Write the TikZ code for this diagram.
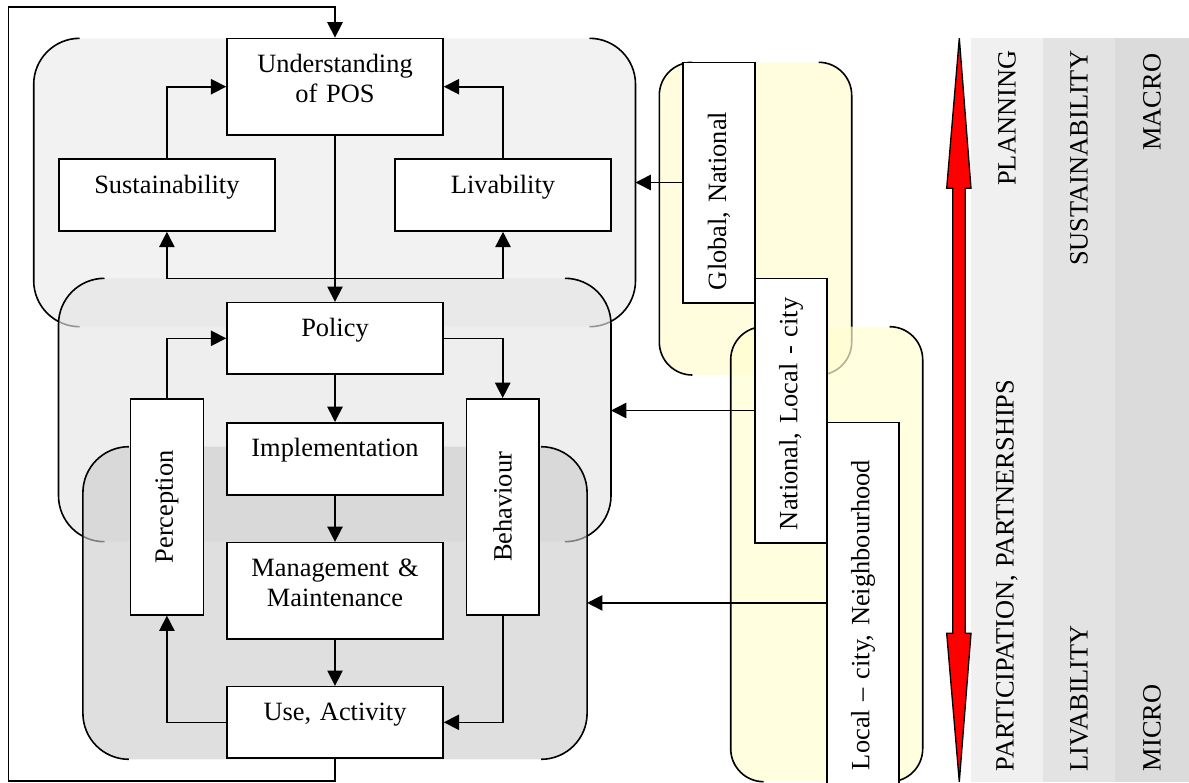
\documentclass[tikz,border=0pt]{standalone}
\usepackage{fontspec}
\setmainfont{Liberation Serif}
\usetikzlibrary{arrows.meta}
\frenchspacing

\tikzset{every picture/.style={line width=1.2pt}}
\tikzset{
  hbox/.style={draw, fill=white, inner sep=0pt, text width=162pt, align=center, text height=25.5pt, text depth=28.5pt},
  hbox2/.style={hbox, text depth=47pt},
  vbox/.style={draw, fill=white, rotate=90, inner sep=0pt, minimum width=162pt, minimum height=54.6pt},
  lbox/.style={draw, fill=white, rotate=90, inner xsep=9.5pt, inner ysep=0pt, minimum height=54pt, align=left},
  bandtxt/.style={rotate=90, inner sep=0pt},
  arr/.style={-{Triangle[length=11.5pt,width=11.5pt]}},
}

\begin{document}
\begin{tikzpicture}[x=0.75pt,y=0.75pt,yscale=-1,xscale=1,font=\fontsize{19.8pt}{22.5pt}\selectfont]
\useasboundingbox (0,0) rectangle (1189,782);

%Shape: grey region 1
\fill[black!5, rounded corners=34.5pt] (33.7,38.3) rectangle (635.5,326.7);
\draw[rounded corners=34.5pt] (79.7,38.3) -- (33.7,38.3) -- (33.7,326.7) -- (79.7,326.7);
\draw[rounded corners=34.5pt] (589.5,38.3) -- (635.5,38.3) -- (635.5,326.7) -- (589.5,326.7);
%Shape: grey region 2
\fill[black!10, fill opacity=0.65, rounded corners=34.5pt] (58.5,278.3) rectangle (611,541.7);
\draw[rounded corners=34.5pt] (104.5,278.3) -- (58.5,278.3) -- (58.5,541.7) -- (104.5,541.7);
\draw[rounded corners=34.5pt] (565,278.3) -- (611,278.3) -- (611,541.7) -- (565,541.7);
%Shape: grey region 3
\fill[black!20, fill opacity=0.62, rounded corners=34.5pt] (82.9,446.7) rectangle (587.1,759.3);
\draw[rounded corners=34.5pt] (128.9,446.7) -- (82.9,446.7) -- (82.9,759.3) -- (128.9,759.3);
\draw[rounded corners=34.5pt] (541.1,446.7) -- (587.1,446.7) -- (587.1,759.3) -- (541.1,759.3);
%Shape: yellow region 1
\fill[yellow!13, rounded corners=24.75pt] (659.3,62.3) rectangle (851.7,375);
\draw[rounded corners=24.75pt] (692.3,62.3) -- (659.3,62.3) -- (659.3,375) -- (692.3,375);
\draw[rounded corners=24.75pt] (818.7,62.3) -- (851.7,62.3) -- (851.7,375) -- (818.7,375);
%Shape: yellow region 2
\fill[yellow!18, fill opacity=0.7, rounded corners=24.75pt] (730.7,326.7) rectangle (922.7,781.7);
\draw[rounded corners=24.75pt] (763.7,326.7) -- (730.7,326.7) -- (730.7,781.7) -- (763.7,781.7);
\draw[rounded corners=24.75pt] (889.7,326.7) -- (922.7,326.7) -- (922.7,781.7) -- (889.7,781.7);

%Shape: bands
\fill[black!6] (971,38.3) rectangle (1043,782);
\fill[black!11] (1043,38.3) rectangle (1115,782);
\fill[black!14] (1115,38.3) rectangle (1189,782);
%Shape: red double arrow
\draw[fill=red, line width=1pt] (959.3,38.3) -- (971,188.3) -- (965.3,188.3) -- (965.3,633.3) -- (971,633.3) -- (959.3,781.7) -- (946.7,633.3) -- (952.7,633.3) -- (952.7,188.3) -- (946.7,188.3) -- cycle;

% Boxes
\node[hbox2] (und) at (335,86.7) {Understanding\\of POS};
\node[hbox] (sus) at (166.9,195) {Sustainability};
\node[hbox] (liv) at (503,195) {Livability};
\node[hbox, text depth=28pt] (pol) at (335,338.3) {Policy};
\node[hbox] (imp) at (335,458.8) {Implementation};
\node[hbox2, text depth=46.7pt] (man) at (335,590.8) {Management \&\\Maintenance};
\node[hbox, text depth=28pt] (use) at (335,722.3) {Use, Activity};
\node[vbox] (per) at (166.9,506.8) {Perception};
\node[vbox] (beh) at (502.7,506.8) {Behaviour};
\node[lbox, text width=161.3pt] (glob) at (719,182.5) {Global, National};
\node[lbox, text width=179.3pt] (nat) at (791,410.5) {National, Local - city};
\node[lbox, inner xsep=15pt, text width=245.5pt] (loc) at (863,606.35) {Local – city, Neighbourhood};

% Text Node
\node[bandtxt, anchor=east] (plan) at (1007,50) {PLANNING};
\node[bandtxt, anchor=east] (sust) at (1079,50) {SUSTAINABILITY};
\node[bandtxt, anchor=east] (macro) at (1152,53) {MACRO};
\node[bandtxt, anchor=west] (part) at (1007,772) {PARTICIPATION, PARTNERSHIPS};
\node[bandtxt, anchor=west] (liva) at (1079,772) {LIVABILITY};
\node[bandtxt, anchor=west] (micro) at (1152,772) {MICRO};

\coordinate (br) at (335,278.3);
\coordinate (lb) at (8.4,781);
\coordinate (lt) at (8.4,6.7);
\coordinate (r1) at (635.5,182.5);
\coordinate (r2) at (611,410.5);
\coordinate (r3) at (587.1,602.9);

%Straight Lines
\draw[arr] (sus.north) |- (und.west);
\draw[arr] (liv.north) |- (und.east);
\draw[arr] (und.south) -- (pol.north);
\draw[arr] (br) -| (sus.south);
\draw[arr] (br) -| (liv.south);
\draw[arr] (per.east) |- (pol.west);
\draw[arr] (pol.east) -| (beh.east);
\draw[arr] (pol.south) -- (imp.north);
\draw[arr] (imp.south) -- (man.north);
\draw[arr] (man.south) -- (use.north);
\draw[arr] (use.west) -| (per.west);
\draw[arr] (beh.west) |- (use.east);
\draw[arr] (use.south) |- (lb) -- (lt) -| (und.north);
\draw[arr] (glob.north) -- (r1);
\draw[arr] (nat.north) -- (r2);
\draw[arr] (loc.north |- r3) -- (r3);

\end{tikzpicture}
\end{document}
